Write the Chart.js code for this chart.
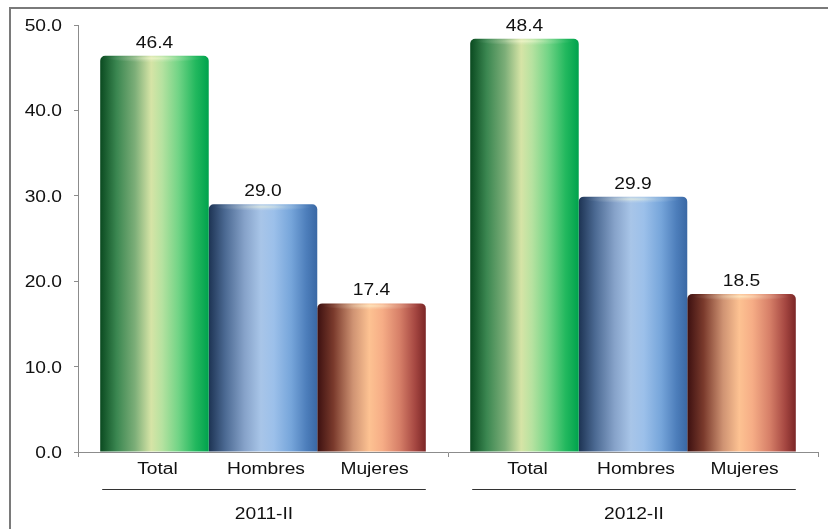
<!DOCTYPE html>
<html>
<head>
<meta charset="utf-8">
<script src="https://cdn.jsdelivr.net/npm/chart.js@4/dist/chart.umd.min.js"></script>
<style>
  html, body { margin: 0; padding: 0; background: #ffffff; }
  canvas { display: block; }
</style>
</head>
<body>
<canvas id="c" width="828" height="529"></canvas>
<script>
// Periods shown on the x axis and the three series drawn in each period
const periods = ['2011-II', '2012-II'];
const seriesNames = ['Total', 'Hombres', 'Mujeres'];
const totalValues = [46.4, 48.4];
const hombresValues = [29.0, 29.9];
const mujeresValues = [17.4, 18.5];
const yTicks = [0, 10, 20, 30, 40, 50];

// Horizontal "cylinder" shading for each series
const shades = [
  [[0, '#0a4a20'], [0.15, '#3a8650'], [0.32, '#7cae78'], [0.47, '#d6e4a6'], [0.57, '#b6e2a0'],
   [0.72, '#72d486'], [0.88, '#22b85e'], [1, '#00a24d']],
  [[0, '#1d3353'], [0.15, '#4b6992'], [0.33, '#86a2c9'], [0.48, '#a8c5e8'], [0.6, '#9cc0ea'],
   [0.76, '#76a5da'], [0.9, '#4d7ebb'], [1, '#3a68a4']],
  [[0, '#3c1010'], [0.15, '#7a3a2c'], [0.33, '#cf9373'], [0.48, '#fdc292'], [0.6, '#f6ad86'],
   [0.76, '#d67f68'], [0.9, '#a64842'], [1, '#7b2626']]
];

const FONT = '16px "Liberation Sans", Arial, sans-serif';
const STRETCH = 1.2;

function wideText(ctx, text, x, y, align, baseline) {
  ctx.save();
  ctx.translate(x, y);
  ctx.scale(STRETCH, 1);
  ctx.font = FONT;
  ctx.fillStyle = '#111111';
  ctx.textAlign = align;
  ctx.textBaseline = baseline;
  ctx.fillText(text, 0, 0);
  ctx.restore();
}

// Gives every bar its own gradient, built from the bar's own geometry
const cylinderFill = {
  id: 'cylinderFill',
  beforeDatasetsDraw(chart) {
    const ctx = chart.ctx;
    chart.data.datasets.forEach((ds, di) => {
      chart.getDatasetMeta(di).data.forEach(bar => {
        const left = bar.x - bar.width / 2;
        const g = ctx.createLinearGradient(left, 0, left + bar.width, 0);
        shades[di].forEach(([p, c]) => g.addColorStop(p, c));
        bar.options.backgroundColor = g;
      });
    });
  },
  afterDatasetsDraw(chart) {
    const ctx = chart.ctx;
    chart.data.datasets.forEach((ds, di) => {
      chart.getDatasetMeta(di).data.forEach(bar => {
        const w = bar.width;
        // soft highlight on the rounded top
        ctx.save();
        ctx.beginPath();
        ctx.rect(bar.x - w / 2, bar.y, w, 7);
        ctx.clip();
        ctx.translate(bar.x, bar.y + 2.5);
        ctx.scale(w * 0.45, 4);
        const r = ctx.createRadialGradient(0, 0, 0, 0, 0, 1);
        r.addColorStop(0, 'rgba(255,255,220,0.55)');
        r.addColorStop(0.5, 'rgba(255,255,230,0.18)');
        r.addColorStop(1, 'rgba(255,255,255,0)');
        ctx.fillStyle = r;
        ctx.beginPath();
        ctx.arc(0, 0, 1, 0, Math.PI * 2);
        ctx.fill();
        ctx.restore();
      });
    });
  }
};

// Value labels, y tick labels, category labels and period labels
const labelsPlugin = {
  id: 'labelsPlugin',
  afterDraw(chart) {
    const ctx = chart.ctx;
    const ys = chart.scales.y;
    yTicks.forEach(v => {
      wideText(ctx, v.toFixed(1), 62, ys.getPixelForValue(v) + 1.5, 'right', 'middle');
    });

    chart.data.datasets.forEach((ds, di) => {
      const meta = chart.getDatasetMeta(di);
      meta.data.forEach((bar, i) => {
        wideText(ctx, ds.data[i].toFixed(1), bar.x, bar.y - 8, 'center', 'alphabetic');
        wideText(ctx, seriesNames[di], bar.x + 3, 474, 'center', 'alphabetic');
      });
    });

    const first = chart.getDatasetMeta(0).data;
    const last = chart.getDatasetMeta(chart.data.datasets.length - 1).data;
    periods.forEach((p, i) => {
      const l = first[i].x - first[i].width / 2 + 2;
      const r = last[i].x + last[i].width / 2;
      ctx.save();
      ctx.strokeStyle = '#333333';
      ctx.lineWidth = 1;
      ctx.beginPath();
      ctx.moveTo(l, 489.5);
      ctx.lineTo(r, 489.5);
      ctx.stroke();
      ctx.restore();
      wideText(ctx, p, (l + r) / 2, 519, 'center', 'alphabetic');
    });

    // outer frame (top and left edges)
    ctx.save();
    ctx.strokeStyle = '#7a7a7a';
    ctx.lineWidth = 2;
    ctx.beginPath();
    ctx.moveTo(10, 529);
    ctx.lineTo(10, 8);
    ctx.lineTo(828, 8);
    ctx.stroke();
    ctx.restore();
  }
};

const radius = { topLeft: 5, topRight: 5, bottomLeft: 0, bottomRight: 0 };

new Chart(document.getElementById('c'), {
  type: 'bar',
  data: {
    labels: periods,
    datasets: [
      { label: seriesNames[0], data: totalValues },
      { label: seriesNames[1], data: hombresValues },
      { label: seriesNames[2], data: mujeresValues }
    ].map(d => Object.assign(d, {
      backgroundColor: () => '#888888',
      borderWidth: 0,
      borderRadius: radius,
      borderSkipped: false,
      categoryPercentage: 0.88,
      barPercentage: 1.0
    }))
  },
  options: {
    responsive: false,
    animation: false,
    events: [],
    layout: { padding: { left: 74, top: 25, right: 10, bottom: 72 } },
    plugins: { legend: { display: false }, tooltip: { enabled: false } },
    scales: {
      x: {
        offset: true,
        grid: { offset: true, drawOnChartArea: false, drawTicks: true, tickLength: 5, color: '#8c8c8c' },
        border: { display: true, color: '#8c8c8c', width: 1 },
        ticks: { display: false },
        afterFit(s) { s.height = 5; }
      },
      y: {
        min: 0,
        max: 50,
        ticks: { display: false, stepSize: 10 },
        grid: { drawOnChartArea: false, drawTicks: true, tickLength: 4, color: '#8c8c8c' },
        border: { display: true, color: '#8c8c8c', width: 1 },
        afterFit(s) { s.width = 4; }
      }
    }
  },
  plugins: [cylinderFill, labelsPlugin]
});
</script>
</body>
</html>
